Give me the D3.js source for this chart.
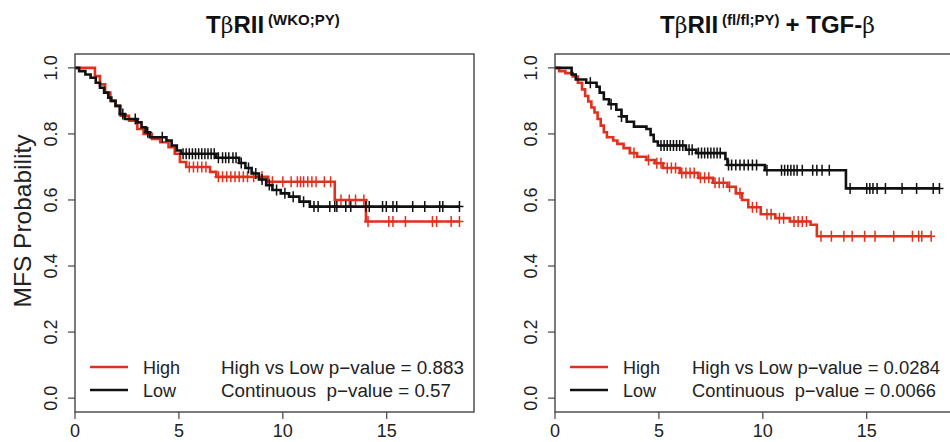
<!DOCTYPE html>
<html>
<head>
<meta charset="utf-8">
<script src="https://d3js.org/d3.v7.min.js"></script>
<style>
  body {
    margin: 0;
    background: #fff;
    font-family: "Liberation Sans", Arial, sans-serif;
  }
  .box { fill: none; stroke: #444; stroke-width: 1.4px; }
  .tick-line { stroke: #444; stroke-width: 1.2px; }
  .tick-lab { font-size: 18px; fill: #222; }
  .legend { font-size: 18px; fill: #222; white-space: pre; }
</style>
</head>
<body>
<div id="chart"></div>
<script>

// x ticks / y ticks
var xTicks = [0, 5, 10, 15];
var yTicks = [0.0, 0.2, 0.4, 0.6, 0.8, 1.0];
var groups = ["High", "Low"];

// left panel: steps are [time, survival], censor marks are times
var leftHighSteps = [[0,1.0],[0.96,0.975],[1.2,0.95],[1.45,0.925],[1.7,0.9],[1.95,0.885],[2.2,0.855],[2.6,0.84],[3.0,0.815],[3.3,0.80],[3.7,0.785],[4.1,0.775],[4.5,0.76],[4.8,0.74],[5.05,0.715],[5.35,0.70],[6.5,0.685],[6.8,0.67],[9.3,0.655],[12.5,0.60],[14.0,0.535]];
var leftHighCensor = [5.5,5.7,5.9,6.1,6.3,6.9,7.1,7.3,7.5,7.7,7.9,8.1,8.3,8.6,9.0,9.5,10.0,10.4,10.7,10.85,11.0,11.2,11.4,11.6,12.0,12.3,12.8,13.2,13.5,13.9,14.1,15.1,15.3,15.9,17.2,17.4,18.1,18.5];
var leftLowSteps = [[0,1.0],[0.2,0.99],[0.5,0.98],[0.75,0.97],[1.0,0.955],[1.2,0.94],[1.4,0.925],[1.6,0.91],[1.75,0.9],[1.95,0.885],[2.15,0.86],[2.4,0.845],[3.0,0.835],[3.2,0.82],[3.4,0.805],[3.6,0.79],[4.4,0.78],[4.65,0.765],[4.9,0.75],[5.1,0.74],[6.8,0.728],[7.9,0.712],[8.2,0.697],[8.5,0.68],[8.85,0.662],[9.2,0.645],[9.5,0.63],[9.9,0.62],[10.3,0.61],[10.8,0.595],[11.3,0.58]];
var leftLowCensor = [2.3,2.9,3.5,4.2,5.2,5.35,5.5,5.65,5.8,5.95,6.1,6.25,6.4,6.55,6.7,6.9,7.1,7.25,7.4,7.6,7.75,8.0,8.35,8.7,9.0,9.35,9.7,10.1,10.5,11.0,11.5,11.7,12.26,12.5,12.6,13.03,13.27,14.0,14.16,14.8,14.98,15.3,15.48,16.25,16.83,17.55,17.7,18.5];

// right panel
var rightHighSteps = [[0,1.0],[0.2,0.99],[0.5,0.984],[0.85,0.974],[1.1,0.955],[1.3,0.935],[1.45,0.915],[1.6,0.898],[1.75,0.88],[1.9,0.865],[2.05,0.845],[2.2,0.825],[2.35,0.805],[2.5,0.79],[2.8,0.78],[3.0,0.77],[3.3,0.757],[3.6,0.742],[3.95,0.731],[4.4,0.721],[4.8,0.711],[5.2,0.697],[6.0,0.682],[6.9,0.667],[7.6,0.652],[8.3,0.64],[8.7,0.62],[9.0,0.6],[9.3,0.578],[9.9,0.557],[10.6,0.545],[11.3,0.535],[12.3,0.525],[12.6,0.49]];
var rightHighCensor = [3.8,4.5,4.9,5.1,5.4,5.6,5.8,6.1,6.3,6.5,6.7,7.0,7.2,7.4,7.7,7.9,8.1,8.4,8.9,9.5,9.7,10.2,10.4,10.8,11.0,11.5,11.7,11.9,12.1,12.8,13.3,13.9,14.3,14.9,15.4,16.3,17.2,17.5,17.65,18.1];
var rightLowSteps = [[0,1.0],[0.8,0.98],[1.0,0.965],[1.5,0.955],[2.0,0.943],[2.15,0.925],[2.35,0.905],[2.6,0.89],[2.95,0.873],[3.2,0.853],[3.45,0.837],[3.8,0.822],[4.4,0.815],[4.6,0.797],[4.75,0.777],[4.95,0.765],[6.3,0.752],[6.8,0.742],[8.2,0.724],[8.3,0.706],[10.1,0.69],[14.0,0.635]];
var rightLowCensor = [1.7,2.7,3.2,5.1,5.25,5.4,5.55,5.7,5.85,6.0,6.15,6.45,6.6,6.9,7.05,7.2,7.35,7.5,7.65,7.8,7.95,8.35,8.5,8.7,8.9,9.1,9.3,9.5,9.7,10.2,10.9,11.05,11.2,11.35,11.5,11.65,11.9,12.4,12.6,12.85,13.2,14.2,15.0,15.15,15.3,15.5,15.9,16.7,17.4,18.2,18.5];

var leftPvals = ["High vs Low p\u2212value = 0.883", "Continuous  p\u2212value = 0.57"];
var rightPvals = ["High vs Low p\u2212value = 0.0284", "Continuous  p\u2212value = 0.0066"];

var colors = {High: "#e2301f", Low: "#111"};

var width = 950, height = 442;

var svg = d3.select("#chart").append("svg")
    .attr("width", width)
    .attr("height", height);

var panels = [
  {left: 75, high: [leftHighSteps, leftHighCensor], low: [leftLowSteps, leftLowCensor], pv: leftPvals, pvX: 146, pvW: [243, 230]},
  {left: 555, high: [rightHighSteps, rightHighCensor], low: [rightLowSteps, rightLowCensor], pv: rightPvals, pvX: 137, pvW: [248, 244]}
];

var plotTop = 54, plotBottom = 412;

var y = d3.scaleLinear().domain([-0.042, 1.042]).range([plotBottom, plotTop]);

function survAt(steps, t) {
  var s = steps[0][1];
  steps.forEach(function(d) { if (d[0] <= t) s = d[1]; });
  return s;
}

panels.forEach(function(p, i) {
  var x = d3.scaleLinear().domain([0, 19.2]).range([p.left, p.left + 399]);
  var g = svg.append("g");

  // curves
  [["High", p.high], ["Low", p.low]].forEach(function(s) {
    var steps = s[1][0], cens = s[1][1];
    var pts = steps.slice();
    var last = d3.max(cens);
    pts.push([last, survAt(steps, last)]);
    g.append("path")
      .attr("d", d3.line().curve(d3.curveStepAfter)
          .x(function(d) { return x(d[0]); })
          .y(function(d) { return y(d[1]); })(pts))
      .attr("fill", "none")
      .attr("stroke", colors[s[0]])
      .attr("stroke-width", 2.6);

    // censor "+" marks
    g.append("g").selectAll("path")
      .data(cens)
      .enter().append("path")
        .attr("d", function(t) {
          var cx = x(t), cy = y(survAt(steps, t));
          return "M" + (cx - 4) + "," + cy + "H" + (cx + 4) + "M" + cx + "," + (cy - 5.5) + "V" + (cy + 5.5);
        })
        .attr("stroke", colors[s[0]])
        .attr("stroke-width", 1.5);
  });

  // box
  g.append("rect")
    .attr("class", "box")
    .attr("x", p.left).attr("y", plotTop)
    .attr("width", 399).attr("height", plotBottom - plotTop);

  // x axis
  g.selectAll(".xt").data(xTicks).enter().append("line")
    .attr("class", "tick-line")
    .attr("x1", x).attr("x2", x)
    .attr("y1", plotBottom).attr("y2", plotBottom + 7);
  g.selectAll(".xl").data(xTicks).enter().append("text")
    .attr("class", "tick-lab")
    .attr("x", x).attr("y", plotBottom + 25)
    .attr("text-anchor", "middle")
    .text(function(d) { return d; });

  // y axis
  g.selectAll(".yt").data(yTicks).enter().append("line")
    .attr("class", "tick-line")
    .attr("x1", p.left - 7).attr("x2", p.left)
    .attr("y1", y).attr("y2", y);
  g.selectAll(".yl").data(yTicks).enter().append("text")
    .attr("class", "tick-lab")
    .attr("transform", function(d) { return "translate(" + (p.left - 18) + "," + y(d) + ") rotate(-90)"; })
    .attr("text-anchor", "middle")
    .text(function(d) { return d.toFixed(1); });

  // legend
  groups.forEach(function(name, j) {
    var ly = 367 + j * 23;
    g.append("line")
      .attr("x1", p.left + 15).attr("x2", p.left + 53)
      .attr("y1", ly).attr("y2", ly)
      .attr("stroke", colors[name]).attr("stroke-width", 2.6);
    g.append("text").attr("class", "legend")
      .attr("x", p.left + 68).attr("y", ly + 7)
      .text(name);
    g.append("text").attr("class", "legend")
      .attr("x", p.left + p.pvX).attr("y", ly + 7)
      .attr("textLength", p.pvW[j])
      .attr("lengthAdjust", "spacingAndGlyphs")
      .text(p.pv[j]);
  });
});

// y label
svg.append("text")
  .attr("transform", "translate(31,221) rotate(-90)")
  .attr("text-anchor", "middle")
  .style("font-size", "24.5px")
  .style("fill", "#222")
  .text("MFS Probability");

// titles
var t1 = svg.append("text").attr("x", 206).attr("y", 33)
  .style("font-size", "24px").style("font-weight", "bold").style("fill", "#111");
t1.append("tspan").text("T");
t1.append("tspan").style("font-weight", "normal").style("font-family", "DejaVu Serif, serif").style("font-size", "22px").text("\u03b2");
t1.append("tspan").text("RII");
t1.append("tspan").attr("dx", 4).attr("dy", -8).style("font-size", "15px").text("(WKO;PY)");

var t2 = svg.append("text").attr("x", 660).attr("y", 33)
  .style("font-size", "24px").style("font-weight", "bold").style("fill", "#111");
t2.append("tspan").text("T");
t2.append("tspan").style("font-weight", "normal").style("font-family", "DejaVu Serif, serif").style("font-size", "22px").text("\u03b2");
t2.append("tspan").text("RII");
t2.append("tspan").attr("dx", 4).attr("dy", -8).style("font-size", "15px").text("(fl/fl;PY)");
t2.append("tspan").attr("dx", 6).attr("dy", 8).text("+ TGF-");
t2.append("tspan").style("font-weight", "normal").style("font-family", "DejaVu Serif, serif").style("font-size", "22px").text("\u03b2");

</script>
</body>
</html>
